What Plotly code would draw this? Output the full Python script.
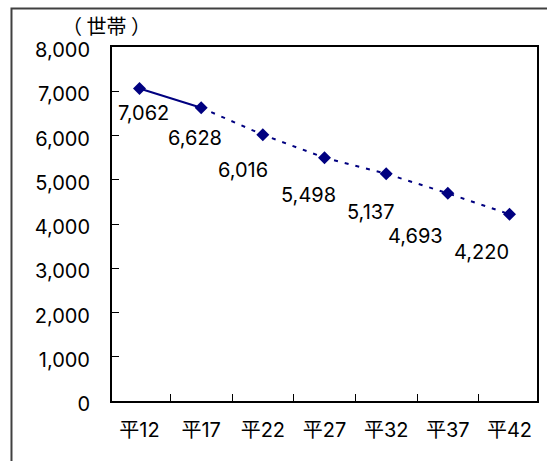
import plotly.graph_objects as go

# Households by survey year (Heisei era)
years = ["平12", "平17", "平22", "平27", "平32", "平37", "平42"]
households = [7062, 6628, 6016, 5498, 5137, 4693, 4220]
y_ticks = [0, 1000, 2000, 3000, 4000, 5000, 6000, 7000, 8000]
y_tick_labels = ["0", "1,000", "2,000", "3,000", "4,000", "5,000", "6,000", "7,000", "8,000"]

# pixel offsets of each value label from its point (dx right, dy up)
label_offsets = [(4, -24), (-6, -30), (-20, -35), (-16, -37), (-16, -38), (-32, -43), (-28, -38)]

NAVY = "#000080"
FONT = "Inter, 'Noto Sans CJK JP', sans-serif"
CJK = "'Noto Sans CJK JP', sans-serif"

fig = go.Figure()

# actual figures: solid segment
fig.add_trace(go.Scatter(
    x=years[:2], y=households[:2], mode="lines",
    line=dict(color=NAVY, width=2), hoverinfo="skip", showlegend=False,
))
# projections: dotted segment
fig.add_trace(go.Scatter(
    x=years[1:], y=households[1:], mode="lines",
    line=dict(color=NAVY, width=2, dash="4px,7px"), hoverinfo="skip", showlegend=False,
))
# markers
fig.add_trace(go.Scatter(
    x=years, y=households, mode="markers",
    marker=dict(symbol="diamond", size=10, color=NAVY, line=dict(width=0)),
    showlegend=False,
))

annotations = []
for cat, val, (dx, dy) in zip(years, households, label_offsets):
    annotations.append(dict(
        x=cat, y=val, xref="x", yref="y", text=f"{val:,}", showarrow=False,
        xshift=dx, yshift=dy, font=dict(family=FONT, size=20, color="black"),
    ))

annotations.append(dict(
    x=-0.012, y=1.061, xref="paper", yref="paper", text="（ 世帯 ）", showarrow=False,
    xanchor="center", yanchor="middle",
    font=dict(family=CJK, size=20, color="black"),
))

fig.update_layout(
    width=547, height=461,
    margin=dict(l=112, r=8, t=47, b=60),
    paper_bgcolor="white", plot_bgcolor="white",
    font=dict(family=FONT, size=20, color="black"),
    annotations=annotations,
    shapes=[dict(
        type="rect", xref="paper", yref="paper",
        x0=-0.2365, x1=1.3, y0=-0.4, y1=1.1086,
        line=dict(color="#404040", width=2), fillcolor="rgba(0,0,0,0)",
        layer="below",
    )],
    xaxis=dict(
        type="category", categoryorder="array", categoryarray=years,
        showline=True, linecolor="black", linewidth=2, mirror=True,
        ticks="inside", ticklen=7, tickwidth=1, tickcolor="black",
        tickson="boundaries", showgrid=False, zeroline=False,
        tickfont=dict(family=FONT, size=20, color="black"),
        ticklabelstandoff=10,
    ),
    yaxis=dict(
        range=[0, 8000], tickvals=y_ticks, ticktext=y_tick_labels,
        showline=True, linecolor="black", linewidth=2, mirror=True,
        ticks="inside", ticklen=7, tickwidth=1, tickcolor="black",
        showgrid=False, zeroline=False,
        tickfont=dict(family=FONT, size=20, color="black"),
        ticklabelstandoff=16, ticklabelshift=3,
    ),
)

fig.write_html("out.html")
